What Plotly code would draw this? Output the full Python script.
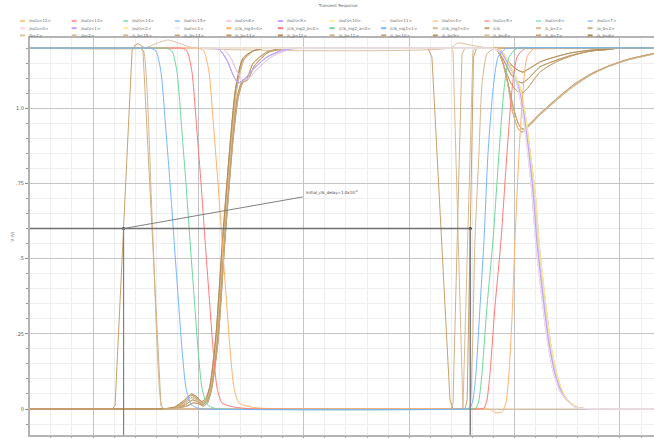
import plotly.graph_objects as go

# ---------------- data: time (ns) and voltage (V) ----------------
T_RANGE = [0.402, 6.323]
V_RANGE = [-0.0864, 1.2334]

# clock-mask signals
clk_mg1_1_t = [0.40, 1.48, 1.541, 1.598, 1.645, 1.693, 1.731, 1.769, 1.806, 1.844, 1.882, 1.930, 1.996, 2.06,
               4.52, 4.577, 4.605, 4.634, 4.672, 4.710, 4.748, 4.795, 4.843, 4.909, 4.97, 6.32]
clk_mg1_1_v = [1.2, 1.2, 1.2, 1.19, 1.12, 0.92, 0.75, 0.56, 0.38, 0.2, 0.07, 0.015, 0.003, 0.0,
               0.0, 0.003, 0.03, 0.12, 0.34, 0.56, 0.85, 1.06, 1.17, 1.197, 1.2, 1.2]

clk_mg2_a_t = [0.40, 1.63, 1.693, 1.750, 1.797, 1.844, 1.882, 1.920, 1.958, 1.996, 2.034, 2.082, 2.148, 2.21,
               4.58, 4.634, 4.662, 4.691, 4.738, 4.795, 4.852, 4.899, 4.947, 5.013, 5.07, 6.32]
clk_mg2_a_v = [1.2, 1.2, 1.2, 1.19, 1.12, 0.92, 0.75, 0.56, 0.38, 0.2, 0.07, 0.015, 0.003, 0.0,
               0.0, 0.003, 0.03, 0.12, 0.34, 0.56, 0.85, 1.06, 1.17, 1.197, 1.2, 1.2]

clk_mg2_b_t = [0.40, 1.77, 1.835, 1.892, 1.939, 1.987, 2.025, 2.063, 2.101, 2.139, 2.177, 2.224, 2.347, 2.490, 2.56,
               4.65, 4.710, 4.738, 4.767, 4.814, 4.871, 4.928, 4.975, 5.023, 5.089, 5.15, 6.32]
clk_mg2_b_v = [1.2, 1.2, 1.2, 1.19, 1.12, 0.92, 0.75, 0.56, 0.38, 0.2, 0.07, 0.02, 0.006, 0.001, 0.0,
               0.0, 0.003, 0.03, 0.12, 0.34, 0.56, 0.85, 1.06, 1.17, 1.197, 1.2, 1.2]

clk_mg4_t = [0.40, 1.93, 1.996, 2.053, 2.101, 2.148, 2.186, 2.224, 2.262, 2.300, 2.338, 2.385, 2.509, 2.679, 2.75,
             4.72, 4.780, 4.814, 4.880, 4.918, 4.947, 4.975, 5.004, 5.042, 5.080, 5.118, 5.175, 5.24, 6.32]
clk_mg4_v = [1.2, 1.2, 1.2, 1.19, 1.12, 0.92, 0.75, 0.56, 0.38, 0.2, 0.07, 0.02, 0.006, 0.001, 0.0,
             0.0, -0.003, -0.012, -0.01, 0.02, 0.12, 0.3, 0.56, 0.85, 1.06, 1.17, 1.197, 1.2, 1.2]

clk_mg1_0_t = [0.40, 1.40, 1.45, 1.48, 1.565, 1.65, 1.68, 1.74, 4.50, 4.567, 4.596, 4.624, 4.662, 4.691,
               4.738, 4.814, 4.88, 6.32]
clk_mg1_0_v = [1.2, 1.2, 1.2, 1.19, 0.6, 0.01, 0.0, 0.0, 0.0, 0.0, 0.15, 0.56, 0.85, 1.08,
               1.18, 1.2, 1.2, 1.2]

clk_t = [0.40, 1.18, 1.209, 1.29, 1.37, 1.40, 1.427, 1.49, 4.178, 4.216, 4.302, 4.387, 4.416,
         4.53, 4.55, 4.58, 4.61, 4.64, 6.32]
clk_v = [0.0, 0.0, 0.01, 0.6, 1.19, 1.21, 1.215, 1.2, 1.2, 1.17, 0.6, 0.03, 0.0,
         0.0, 0.03, 0.6, 1.17, 1.2, 1.2]

a_b2_t = [0.40, 1.45, 1.474, 1.560, 1.645, 1.674, 4.396, 4.416, 4.458, 4.501, 4.53, 6.32]
a_b2_v = [1.2, 1.2, 1.19, 0.6, 0.01, 0.0, 0.0, 0.02, 0.6, 1.18, 1.2, 1.2]

s_b2_t = [0.40, 4.40, 4.416, 4.463, 4.510, 4.558, 4.605, 4.63, 6.32]
s_b2_v = [1.2, 1.2, 1.19, 0.6, 0.0, 0.6, 1.19, 1.2, 1.2]

b2_t = [0.40, 1.49, 1.60, 1.71, 1.82, 1.97, 4.387, 4.463, 4.58, 4.767, 6.32]
b2_v = [1.2, 1.2, 1.215, 1.227, 1.215, 1.2, 1.2, 1.217, 1.21, 1.2, 1.2]

a2_t = [0.40, 6.32]
a2_v = [0.0, 0.0]

# s_b family (five waveform shapes)
sbA_t = [0.40, 1.58, 1.636, 1.778, 1.873, 1.939, 1.987, 2.034, 2.072, 2.110, 2.167, 2.233, 2.309, 2.357, 2.423, 2.518,
         2.632, 2.70, 4.74, 4.80, 4.86, 4.91, 4.97, 5.03, 5.07, 5.12, 5.24, 5.40, 5.55, 5.72, 5.88, 6.00, 6.32]
sbA_v = [0, 0, 0, 0.005, 0.025, 0.045, 0.035, 0.02, 0.03, 0.07, 0.23, 0.56, 0.89, 1.06, 1.16, 1.19,
         1.2, 1.2, 1.2, 1.2, 1.18, 1.13, 1.08, 1.055, 1.05, 1.065, 1.12, 1.155, 1.175, 1.19, 1.195, 1.2, 1.2]
sbB_t = [0.40, 1.59, 1.65, 1.79, 1.88, 1.945, 1.99, 2.04, 2.08, 2.12, 2.18, 2.245, 2.32, 2.37, 2.414, 2.461, 2.52, 2.65,
         2.82, 2.89, 4.75, 4.81, 4.86, 4.91, 4.97, 5.03, 5.07, 5.12, 5.24, 5.40, 5.55, 5.72, 5.88, 6.00, 6.32]
sbB_v = [0, 0, 0, 0.004, 0.015, 0.03, 0.025, 0.015, 0.025, 0.07, 0.23, 0.56, 0.89, 1.04, 1.09, 1.1, 1.15, 1.187,
         1.2, 1.2, 1.2, 1.2, 1.185, 1.15, 1.11, 1.09, 1.084, 1.095, 1.137, 1.16, 1.177, 1.19, 1.195, 1.2, 1.2]
sbC_t = [0.40, 1.58, 1.64, 1.78, 1.875, 1.94, 1.99, 2.04, 2.075, 2.115, 2.17, 2.238, 2.314, 2.362, 2.43, 2.52,
         2.64, 2.71, 4.72, 4.78, 4.83, 4.88, 4.93, 4.98, 5.03, 5.07, 5.12, 5.24, 5.40, 5.55, 5.72, 5.88, 6.07, 6.32]
sbC_v = [0, 0, 0, 0.004, 0.02, 0.038, 0.03, 0.018, 0.028, 0.07, 0.23, 0.56, 0.89, 1.06, 1.16, 1.19,
         1.2, 1.2, 1.2, 1.2, 1.195, 1.16, 1.09, 0.99, 0.935, 0.92, 0.934, 0.977, 1.027, 1.07, 1.11, 1.137, 1.16, 1.18]
sbD_t = [0.40, 1.60, 1.66, 1.80, 1.89, 1.95, 2.00, 2.045, 2.085, 2.125, 2.185, 2.25, 2.325, 2.375, 2.42, 2.47, 2.53, 2.66,
         2.84, 2.91, 4.73, 4.79, 4.84, 4.89, 4.94, 4.99, 5.04, 5.08, 5.13, 5.25, 5.41, 5.56, 5.73, 5.89, 6.08, 6.32]
sbD_v = [0, 0, 0, 0.003, 0.01, 0.02, 0.018, 0.01, 0.02, 0.065, 0.22, 0.55, 0.88, 1.03, 1.085, 1.095, 1.14, 1.185,
         1.2, 1.2, 1.2, 1.2, 1.19, 1.15, 1.08, 1.0, 0.945, 0.93, 0.943, 0.985, 1.035, 1.078, 1.115, 1.14, 1.163, 1.182]
sbE_t = [0.40, 1.57, 1.63, 1.77, 1.87, 1.935, 1.985, 2.03, 2.07, 2.108, 2.165, 2.23, 2.305, 2.352, 2.42, 2.515,
         2.63, 2.70, 4.76, 4.82, 4.87, 4.92, 4.98, 5.04, 5.08, 5.13, 5.25, 5.40, 5.55, 5.72, 5.88, 6.00, 6.32]
sbE_v = [0, 0, 0, 0.006, 0.03, 0.05, 0.04, 0.025, 0.035, 0.075, 0.24, 0.57, 0.9, 1.065, 1.165, 1.19,
         1.2, 1.2, 1.2, 1.2, 1.19, 1.165, 1.14, 1.125, 1.12, 1.13, 1.155, 1.172, 1.185, 1.193, 1.197, 1.2, 1.2]

# outs family (four waveform shapes)
outDipA_t = [0.40, 2.06, 2.12, 2.20, 2.27, 2.33, 2.376, 2.43, 2.52, 2.65, 2.80, 2.92, 2.98,
             4.71, 4.77, 4.86, 4.96, 5.03, 5.08, 5.13, 5.175, 5.21, 5.26, 5.32, 5.38, 5.44, 5.50, 5.59, 5.81, 5.88, 6.32]
outDipA_v = [1.2, 1.2, 1.2, 1.195, 1.16, 1.11, 1.084, 1.095, 1.13, 1.17, 1.193, 1.2, 1.2,
             1.2, 1.2, 1.19, 1.13, 1.08, 1.0, 0.87, 0.72, 0.56, 0.40, 0.23, 0.12, 0.06, 0.03, 0.005, 0.0, 0.0, 0.0]
outDipB_t = [0.40, 2.10, 2.16, 2.24, 2.31, 2.37, 2.42, 2.48, 2.57, 2.70, 2.85, 2.97, 3.03,
             4.72, 4.78, 4.87, 4.97, 5.045, 5.095, 5.145, 5.19, 5.225, 5.275, 5.335, 5.395, 5.455, 5.515, 5.60, 5.82, 5.89, 6.32]
outDipB_v = [1.2, 1.2, 1.2, 1.195, 1.165, 1.12, 1.094, 1.10, 1.135, 1.172, 1.194, 1.2, 1.2,
             1.2, 1.2, 1.19, 1.13, 1.075, 0.99, 0.86, 0.71, 0.55, 0.39, 0.22, 0.115, 0.055, 0.025, 0.004, 0.0, 0.0, 0.0]
outFlatA_t = [0.40, 4.70, 4.76, 4.85, 4.95, 5.02, 5.07, 5.12, 5.165, 5.20, 5.25, 5.31, 5.37, 5.43, 5.49, 5.58, 5.80, 5.87, 6.32]
outFlatA_v = [1.2, 1.2, 1.2, 1.19, 1.135, 1.085, 1.0, 0.87, 0.72, 0.56, 0.40, 0.23, 0.12, 0.06, 0.03, 0.005, 0.0, 0.0, 0.0]
outFlatB_t = [0.40, 4.73, 4.79, 4.88, 4.98, 5.05, 5.10, 5.15, 5.20, 5.235, 5.285, 5.345, 5.405, 5.465, 5.525, 5.61, 5.83, 5.90, 6.32]
outFlatB_v = [1.2, 1.2, 1.2, 1.19, 1.125, 1.07, 0.98, 0.85, 0.70, 0.54, 0.38, 0.21, 0.11, 0.05, 0.022, 0.004, 0.0, 0.0, 0.0]

# legend entries in display order
legend_names = [
    "/outs<12>", "/outs<13>", "/outs<14>", "/outs<15>", "/outs<8>", "/outs<9>",
    "/outs<10>", "/outs<11>", "/outs<4>", "/outs<5>", "/outs<6>", "/outs<7>",
    "/outs<0>", "/outs<1>", "/outs<2>", "/outs<3>", "/clk_mg4<0>", "/clk_mg2_b<0>",
    "/clk_mg2_a<0>", "/clk_mg1<1>", "/clk_mg1<0>", "/clk", "/s_b<2>", "/a_b<2>",
    "/b<2>", "/a<2>", "/s_b<15>", "/s_b<14>", "/s_b<13>", "/s_b<12>",
    "/s_b<11>", "/s_b<10>", "/s_b<9>", "/s_b<8>", "/s_b<7>", "/s_b<6>",
]
legend_colors = [
    "#ffcc99", "#ff9f9f", "#9fe6bf", "#9fcaff", "#ffc8dc", "#c9a0ff",
    "#fff09a", "#eeeeee", "#ffd2a6", "#ffadad", "#ade9c8", "#b0d2ff",
    "#ffd0e4", "#c89cf5", "#ffe98a", "#e6e6ff", "#ffb26b", "#ff7878",
    "#6fd69a", "#78b4ff", "#d6b78e", "#c9a16e", "#d8bb94", "#d2b088",
    "#dcc3a0", "#d9bf9a", "#d7b993", "#ccaa7c", "#c49c68", "#b98f58",
    "#d2b287", "#c6a271", "#bf985f", "#d9bd97", "#c8a576", "#b38a52",
]
shape_of = {
    "/outs<12>": "outFlatA", "/outs<13>": "outFlatB", "/outs<14>": "outFlatA", "/outs<15>": "outDipB",
    "/outs<8>": "outDipB", "/outs<9>": "outDipA", "/outs<10>": "outFlatB", "/outs<11>": "outFlatA",
    "/outs<4>": "outFlatB", "/outs<5>": "outFlatA", "/outs<6>": "outFlatB", "/outs<7>": "outDipA",
    "/outs<0>": "outFlatA", "/outs<1>": "outDipA", "/outs<2>": "outFlatB", "/outs<3>": "outFlatA",
    "/clk_mg4<0>": "clk_mg4", "/clk_mg2_b<0>": "clk_mg2_b", "/clk_mg2_a<0>": "clk_mg2_a",
    "/clk_mg1<1>": "clk_mg1_1", "/clk_mg1<0>": "clk_mg1_0", "/clk": "clk", "/s_b<2>": "s_b2",
    "/a_b<2>": "a_b2", "/b<2>": "b2", "/a<2>": "a2",
    "/s_b<15>": "sbA", "/s_b<14>": "sbB", "/s_b<13>": "sbC", "/s_b<12>": "sbD", "/s_b<11>": "sbE",
    "/s_b<10>": "sbA", "/s_b<9>": "sbB", "/s_b<8>": "sbC", "/s_b<7>": "sbD", "/s_b<6>": "sbE",
}
series = {
    "clk_mg1_1": (clk_mg1_1_t, clk_mg1_1_v), "clk_mg2_a": (clk_mg2_a_t, clk_mg2_a_v),
    "clk_mg2_b": (clk_mg2_b_t, clk_mg2_b_v), "clk_mg4": (clk_mg4_t, clk_mg4_v),
    "clk_mg1_0": (clk_mg1_0_t, clk_mg1_0_v), "clk": (clk_t, clk_v), "a_b2": (a_b2_t, a_b2_v),
    "s_b2": (s_b2_t, s_b2_v), "b2": (b2_t, b2_v), "a2": (a2_t, a2_v),
    "sbA": (sbA_t, sbA_v), "sbB": (sbB_t, sbB_v), "sbC": (sbC_t, sbC_v), "sbD": (sbD_t, sbD_v), "sbE": (sbE_t, sbE_v),
    "outDipA": (outDipA_t, outDipA_v), "outDipB": (outDipB_t, outDipB_v),
    "outFlatA": (outFlatA_t, outFlatA_v), "outFlatB": (outFlatB_t, outFlatB_v),
}
linear_keys = {"clk", "a_b2", "s_b2", "a2"}

# delay marker
marker_t = [1.29, 4.58]
marker_v = [0.6, 0.6]
label_t, label_v = 2.99, 0.705
label_text = "initial_clk_delay=1.0x10<sup>-9</sup>"

y_tickvals = [0, 0.25, 0.5, 0.75, 1.0]
y_ticktext = ["0", ".25", ".5", ".75", "1.0"]

# ---------------- figure ----------------
W, H = 654, 438
ML, MR, MT, MB = 30, 0, 38, 3
PW, PH = W - ML - MR, H - MT - MB

fig = go.Figure()

draw_order = list(range(24, 36)) + [20, 21, 22, 23] + list(range(0, 16)) + [16, 17, 18, 19]
for i in draw_order:
    name = legend_names[i]
    key = shape_of[name]
    t, v = series[key]
    fig.add_trace(go.Scatter(
        x=t, y=v, mode="lines", name=name, showlegend=False,
        line=dict(color=legend_colors[i], width=1,
                  shape="linear" if key in linear_keys else "spline", smoothing=0.6),
        hoverinfo="skip"))

shapes = [
    dict(type="line", xref="x", yref="y", x0=T_RANGE[0], x1=marker_t[1], y0=marker_v[0], y1=marker_v[1],
         line=dict(color="#707070", width=1.5)),
    dict(type="line", xref="x", yref="y", x0=marker_t[0], x1=marker_t[0], y0=marker_v[0], y1=V_RANGE[0],
         line=dict(color="#808080", width=1.2)),
    dict(type="line", xref="x", yref="y", x0=marker_t[1], x1=marker_t[1], y0=marker_v[1], y1=V_RANGE[0],
         line=dict(color="#808080", width=1.5)),
    dict(type="line", xref="x", yref="y", x0=marker_t[0], x1=label_t, y0=marker_v[0], y1=label_v,
         line=dict(color="#808080", width=1)),
]
fig.add_trace(go.Scatter(x=marker_t, y=marker_v, mode="markers", showlegend=False,
                         marker=dict(size=3, color="#222222"), hoverinfo="skip"))

annotations = [
    dict(x=label_t + 0.01, y=label_v, xref="x", yref="y", text=label_text, showarrow=False,
         xanchor="left", yanchor="bottom", font=dict(size=4, color="#444", family="DejaVu Sans")),
]

# manual legend (12 columns x 3 rows)
for i, (name, col) in enumerate(zip(legend_names, legend_colors)):
    r, c = divmod(i, 12)
    xpx = 20 + c * 51.6
    ypx = 21 + r * 7.2
    yp = (H - MB - ypx) / PH
    shapes.append(dict(type="line", xref="paper", yref="paper",
                       x0=(xpx - ML) / PW, x1=(xpx + 5 - ML) / PW, y0=yp, y1=yp,
                       line=dict(color=col, width=2)))
    annotations.append(dict(x=(xpx + 7 - ML) / PW, y=yp, xref="paper", yref="paper",
                            text=name.replace("<", "&lt;").replace(">", "&gt;"),
                            showarrow=False, xanchor="left", yanchor="middle",
                            font=dict(size=4, color="#666", family="DejaVu Sans")))

fig.update_layout(
    width=W, height=H, margin=dict(l=ML, r=MR, t=MT, b=MB),
    paper_bgcolor="white", plot_bgcolor="white",
    title=dict(text="Transient Response", x=338 / W, xref="container", xanchor="center",
               y=1 - 6 / H, yref="container", yanchor="middle",
               font=dict(size=4, color="#666", family="DejaVu Sans")),
    shapes=shapes, annotations=annotations,
    xaxis=dict(range=T_RANGE, dtick=1, tick0=0, showgrid=True, gridcolor="#c4c4c4", gridwidth=1,
               minor=dict(dtick=0.2, showgrid=True, gridcolor="#eeeeee", ticks="outside", ticklen=2,
                          tickcolor="#999"),
               showline=True, linecolor="#b4b4b4", linewidth=2, mirror=True,
               ticks="outside", ticklen=3, tickcolor="#888", showticklabels=False, zeroline=False),
    yaxis=dict(range=V_RANGE, tickvals=y_tickvals, ticktext=y_ticktext, showgrid=True,
               gridcolor="#c4c4c4", gridwidth=1,
               minor=dict(dtick=0.05, showgrid=True, gridcolor="#eeeeee", ticks="outside", ticklen=2,
                          tickcolor="#999"),
               showline=True, linecolor="#b4b4b4", linewidth=2, mirror=True,
               ticks="outside", ticklen=3, tickcolor="#888", zeroline=False,
               tickfont=dict(size=5, color="#555", family="DejaVu Sans"),
               title=dict(text="V (V)", standoff=2, font=dict(size=4, color="#555", family="DejaVu Sans")),
               automargin=False),
)

fig.write_html("out.html", config={"displayModeBar": False},
               post_script="document.body.style.margin='0';")
